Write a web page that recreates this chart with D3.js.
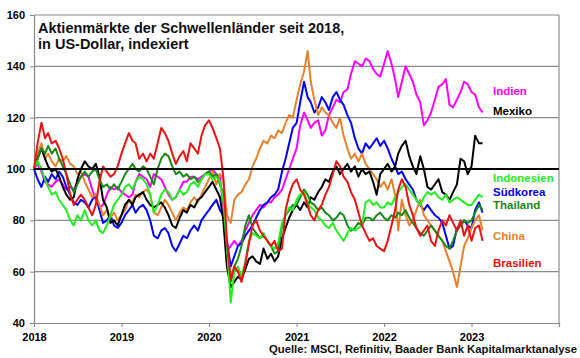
<!DOCTYPE html>
<html>
<head>
<meta charset="utf-8">
<script src="https://cdn.jsdelivr.net/npm/d3@7"></script>
<style>
  body { margin: 0; background: #fff; }
  svg { font-family: Arial, "Liberation Sans", sans-serif; font-weight: bold; }
  .axis path, .axis line { stroke: #888; }
  .axis text { font-size: 11px; font-weight: bold; fill: #000; }
</style>
</head>
<body>
<svg id="chart" width="580" height="358"></svg>
<script>
// halbmonatliche Werte, Jan 2018 bis Mitte Feb 2023 (je Jahr 24 Werte)
const indien = [
  100,102,99,95,94,93,95,96,94,92,93,92,95,97,98,97,92,88,85,86,90,93,92,93,
  91,90,89,90,95,98,97,96,93,98,97,96,93,90,88,89,92,95,95,97,97,96,97,98,
  99,100,98,97,85,68,70,72,70,72,76,79,82,84,86,85,87,87,89,90,92,96,100,104,
  108,117,122,119,116,118,119,113,115,121,124,127,126,130,131,137,142,141,140,143,142,139,137,136,
  141,146,141,135,128,134,140,137,134,129,126,117,119,122,127,132,133,135,125,124,127,130,134,133,
  130,129,124,122
];
const mexiko = [
  100,104,108,104,101,99,100,97,93,90,88,89,96,100,103,101,100,102,97,88,85,79,80,78,
  82,86,88,86,89,90,91,88,86,85,86,87,85,82,78,77,81,84,83,86,85,88,89,91,
  93,95,92,89,80,62,54,56,58,57,61,65,66,64,63,69,65,67,64,66,73,77,81,84,
  86,84,87,85,89,88,91,93,96,95,99,101,98,100,102,99,101,97,100,98,99,95,90,98,
  100,102,99,101,106,109,111,105,101,98,105,100,93,92,94,96,91,90,88,91,94,104,103,98,
  101,113,110,110
];
const indonesien = [
  100,103,100,96,93,90,91,88,86,84,80,78,82,80,84,80,78,80,76,75,78,82,86,88,
  90,93,94,92,95,97,96,94,90,83,86,90,92,91,88,89,92,90,91,94,95,93,96,98,
  98,96,97,95,88,70,48,60,62,58,64,72,75,74,73,75,72,70,69,71,79,82,85,84,
  88,90,91,87,85,84,81,80,78,77,79,76,74,72,75,77,76,77,78,87,88,86,87,85,
  85,87,86,89,91,93,94,92,90,88,86,89,91,90,91,89,88,90,87,88,89,88,87,86,
  86,88,90,89
];
const suedkorea = [
  100,96,93,97,95,98,96,99,97,93,90,87,86,88,87,85,88,90,84,79,80,82,78,77,
  79,82,84,86,83,85,86,84,80,74,73,76,77,75,70,68,71,74,73,76,78,76,80,82,
  84,86,88,84,82,72,62,66,70,71,74,76,78,81,84,86,87,89,90,92,99,104,110,116,
  118,126,134,128,126,122,124,128,126,123,128,130,127,125,121,118,112,108,106,110,108,110,112,109,
  111,108,104,101,98,99,96,94,92,88,86,84,86,84,82,81,79,74,69,70,77,78,80,78,
  77,84,87,83
];
const thailand = [
  100,104,108,106,109,106,108,104,101,98,94,91,94,97,99,97,99,100,96,93,94,92,94,92,
  95,98,100,102,100,99,101,100,97,94,100,104,106,105,101,98,99,97,98,96,97,95,96,98,
  99,97,98,94,90,70,56,62,65,70,78,82,77,75,73,74,72,70,67,68,78,82,84,86,
  86,89,92,90,87,86,84,85,83,82,80,81,83,82,78,76,77,79,78,81,81,80,82,83,
  81,80,82,81,83,82,84,81,79,77,75,74,76,78,76,74,72,70,69,72,76,78,80,79,
  80,83,86,84
];
const china = [
  100,106,110,104,106,103,101,104,103,105,102,101,98,99,95,92,89,90,86,82,84,81,83,80,
  82,84,88,87,90,89,91,92,90,83,82,85,88,86,83,80,83,85,84,87,89,87,90,93,
  96,99,94,98,96,82,79,88,90,91,94,96,101,104,108,111,110,113,112,115,114,118,121,120,
  127,133,138,146,134,127,121,124,122,121,118,116,120,113,108,104,106,103,106,102,100,98,96,93,
  95,92,96,90,76,88,82,78,80,84,88,82,80,78,76,74,72,68,64,60,54,62,70,73,
  77,80,82,76
];
const brasilien = [
  100,110,118,112,114,110,111,108,104,98,90,86,88,90,88,85,82,86,95,101,99,97,98,101,
  106,110,114,111,110,104,106,103,106,104,110,116,114,111,106,102,105,107,103,110,108,106,113,117,
  119,116,112,108,97,72,57,62,60,56,63,71,78,80,76,74,72,70,72,68,69,84,90,94,
  96,92,90,86,82,80,84,86,90,93,98,103,101,97,95,91,88,83,78,75,72,73,70,69,
  68,72,78,84,92,96,93,86,82,77,74,76,78,72,70,76,80,78,82,79,76,80,74,78,
  72,77,78,72
];

const yTicks = [40, 60, 80, 100, 120, 140, 160];
const xYears = [2018, 2019, 2020, 2021, 2022, 2023];

// Zeitachse: 1. und 16. jedes Monats
const dates = [];
d3.timeMonth.range(new Date(2018, 0, 1), new Date(2023, 2, 1)).forEach(m => {
    dates.push(m);
    dates.push(new Date(m.getFullYear(), m.getMonth(), 16));
});

const series = [
    {name: "Indien", values: indien, color: "#ff00ff", labelY: 95},
    {name: "Südkorea", values: suedkorea, color: "#0000ff", labelY: 196},
    {name: "China", values: china, color: "#e8812a", labelY: 240},
    {name: "Mexiko", values: mexiko, color: "#000000", labelY: 115},
    {name: "Thailand", values: thailand, color: "#168a16", labelY: 209},
    {name: "Indonesien", values: indonesien, color: "#22ee22", labelY: 182},
    {name: "Brasilien", values: brasilien, color: "#ee1111", labelY: 267}
];

const svg = d3.select("#chart");
const plotLeft = 34, plotRight = 559, plotTop = 15, plotBottom = 323;

const x = d3.scaleTime()
    .domain([new Date(2018, 0, 1), new Date(2024, 0, 1)])
    .range([plotLeft, plotRight]);

const y = d3.scaleLinear()
    .domain([40, 160])
    .range([plotBottom, plotTop]);

// Gitternetz
svg.append("g")
    .selectAll("line")
    .data(yTicks.filter(d => d !== 100 && d !== 40))
    .enter()
    .append("line")
    .attr("x1", plotLeft)
    .attr("x2", plotRight)
    .attr("y1", d => y(d))
    .attr("y2", d => y(d))
    .attr("stroke", "#8c8c8c")
    .attr("stroke-width", 1.2);

svg.append("line")
    .attr("x1", plotRight).attr("x2", plotRight)
    .attr("y1", plotTop).attr("y2", plotBottom)
    .attr("stroke", "#8c8c8c")
    .attr("stroke-width", 1.2);

const yAxis = svg.append("g")
    .attr("class", "axis")
    .attr("transform", `translate(${plotLeft},0)`)
    .call(d3.axisLeft(y).tickValues(yTicks).tickSize(4).tickPadding(5));
yAxis.select(".domain").attr("stroke-width", 1.2);

const xAxis = svg.append("g")
    .attr("class", "axis")
    .attr("transform", `translate(0,${plotBottom})`)
    .call(d3.axisBottom(x)
        .tickValues(xYears.map(yr => new Date(yr, 0, 1)))
        .tickFormat(d3.timeFormat("%Y"))
        .tickSize(4)
        .tickPadding(6));
xAxis.select(".domain").attr("stroke-width", 1.2);

// Titel
const title = svg.append("text")
    .attr("x", 38)
    .attr("y", 33)
    .attr("font-size", 14.5)
    .attr("fill", "#111");
title.append("tspan").attr("x", 38).text("Aktienmärkte der Schwellenländer seit 2018,");
title.append("tspan").attr("x", 38).attr("dy", 16).text("in US-Dollar, indexiert");

// Linien
const line = d3.line()
    .x((d, i) => x(dates[i]))
    .y(d => y(d));

svg.append("g")
    .selectAll("path")
    .data(series)
    .enter()
    .append("path")
    .attr("fill", "none")
    .attr("stroke", d => d.color)
    .attr("stroke-width", 2)
    .attr("stroke-linejoin", "round")
    .attr("d", d => line(d.values));

// 100-Linie
svg.append("line")
    .attr("x1", plotLeft)
    .attr("x2", plotRight)
    .attr("y1", y(100))
    .attr("y2", y(100))
    .attr("stroke", "#000")
    .attr("stroke-width", 2);

// Beschriftungen rechts
svg.append("g")
    .selectAll("text")
    .data(series)
    .enter()
    .append("text")
    .attr("x", 493)
    .attr("y", d => d.labelY)
    .attr("font-size", 11.5)
    .attr("fill", d => d.color)
    .text(d => d.name);

svg.append("text")
    .attr("x", 577)
    .attr("y", 353)
    .attr("text-anchor", "end")
    .attr("font-size", 11.3)
    .attr("fill", "#111")
    .text("Quelle: MSCI, Refinitiv, Baader Bank Kapitalmarktanalyse");
</script>
</body>
</html>
